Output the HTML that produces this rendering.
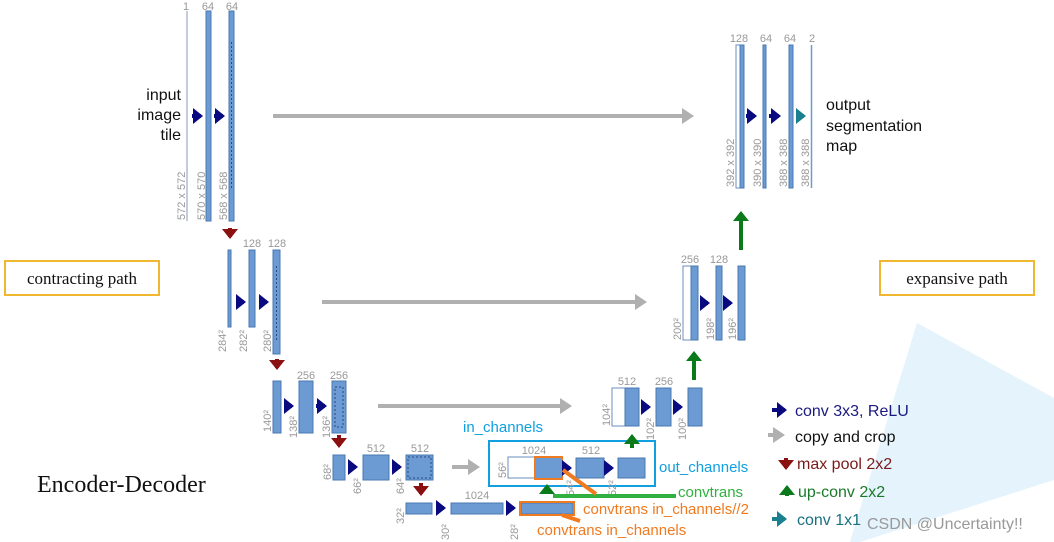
<!DOCTYPE html>
<html><head><meta charset="utf-8"><style>
html,body{margin:0;padding:0;background:#fff;}
svg{display:block;font-family:"Liberation Sans",sans-serif;}
.g{fill:#999;font-size:11px;}
.b{fill:#6b9bd2;stroke:#4a78b0;stroke-width:1;}
.w{fill:#fff;stroke:#6b8fc0;stroke-width:1;}
</style></head><body>
<svg width="1054" height="542" viewBox="0 0 1054 542" xmlns="http://www.w3.org/2000/svg">
<defs>
<marker id="nv" markerWidth="4" markerHeight="4" refX="2" refY="2" orient="auto" markerUnits="strokeWidth"><path d="M0,0 L2.5,2 L0,4 z" fill="#0a0a80"/></marker>
<marker id="gr" markerWidth="4" markerHeight="4" refX="2" refY="2" orient="auto" markerUnits="strokeWidth"><path d="M0,0 L3,2 L0,4 z" fill="#b0b0b0"/></marker>
<marker id="rd" markerWidth="4" markerHeight="4" refX="2" refY="2" orient="auto" markerUnits="strokeWidth"><path d="M0,0 L2.5,2 L0,4 z" fill="#8b1010"/></marker>
<marker id="gn" markerWidth="4" markerHeight="4" refX="2" refY="2" orient="auto" markerUnits="strokeWidth"><path d="M0,0 L2.5,2 L0,4 z" fill="#0a7a1a"/></marker>
<marker id="tl" markerWidth="4" markerHeight="4" refX="2" refY="2" orient="auto" markerUnits="strokeWidth"><path d="M0,0 L2.5,2 L0,4 z" fill="#1a8090"/></marker>
</defs>
<polygon points="917,323 1054,398 1054,480 860,542 850,542" fill="#e4f3fc"/>

<!-- Level 1 contracting -->
<line x1="187" y1="11" x2="187" y2="221" stroke="#8a9ab8" stroke-width="1"/>
<rect class="b" x="206" y="11" width="5" height="210"/>
<rect class="b" x="229" y="11" width="5" height="210"/>
<line x1="231.5" y1="42" x2="231.5" y2="190" stroke="#2a4a80" stroke-dasharray="2,2"/>
<text class="g" x="186" y="10" text-anchor="middle">1</text>
<text class="g" x="208" y="10" text-anchor="middle">64</text>
<text class="g" x="232" y="10" text-anchor="middle">64</text>
<text class="g" transform="translate(185,220) rotate(-90)">572 x 572</text>
<text class="g" transform="translate(205,220) rotate(-90)">570 x 570</text>
<text class="g" transform="translate(227,220) rotate(-90)">568 x 568</text>
<line x1="192" y1="116" x2="201" y2="116" stroke="#0a0a80" stroke-width="4" marker-end="url(#nv)"/>
<line x1="214" y1="116" x2="223" y2="116" stroke="#0a0a80" stroke-width="4" marker-end="url(#nv)"/>
<line x1="273" y1="116" x2="690" y2="116" stroke="#b0b0b0" stroke-width="4" marker-end="url(#gr)"/>
<text x="181" y="100" text-anchor="end" font-size="16" fill="#111">input</text>
<text x="181" y="120" text-anchor="end" font-size="16" fill="#111">image</text>
<text x="181" y="140" text-anchor="end" font-size="16" fill="#111">tile</text>
<line x1="230" y1="228" x2="230" y2="237" stroke="#8b1010" stroke-width="4" marker-end="url(#rd)"/>

<!-- Level 2 -->
<rect class="b" x="228" y="250" width="3" height="77"/>
<rect class="b" x="249" y="250" width="6" height="77"/>
<rect class="b" x="273" y="250" width="7" height="104"/>
<line x1="276.5" y1="266" x2="276.5" y2="340" stroke="#2a4a80" stroke-dasharray="2,2"/>
<text class="g" x="252" y="247" text-anchor="middle">128</text>
<text class="g" x="277" y="247" text-anchor="middle">128</text>
<text class="g" transform="translate(226,352) rotate(-90)">284²</text>
<text class="g" transform="translate(247,352) rotate(-90)">282²</text>
<text class="g" transform="translate(271,352) rotate(-90)">280²</text>
<line x1="236" y1="302" x2="244" y2="302" stroke="#0a0a80" stroke-width="4" marker-end="url(#nv)"/>
<line x1="259" y1="302" x2="267" y2="302" stroke="#0a0a80" stroke-width="4" marker-end="url(#nv)"/>
<line x1="322" y1="302" x2="643" y2="302" stroke="#b0b0b0" stroke-width="4" marker-end="url(#gr)"/>
<line x1="277" y1="359" x2="277" y2="368" stroke="#8b1010" stroke-width="4" marker-end="url(#rd)"/>

<!-- Level 3 -->
<rect class="b" x="273" y="381" width="8" height="52"/>
<rect class="b" x="299" y="381" width="14" height="52"/>
<rect class="b" x="332" y="381" width="14" height="52"/>
<rect x="335" y="387" width="8" height="40" fill="none" stroke="#2a4a80" stroke-dasharray="2,2"/>
<text class="g" x="306" y="379" text-anchor="middle" font-size="12">256</text>
<text class="g" x="339" y="379" text-anchor="middle" font-size="12">256</text>
<text class="g" transform="translate(271,432) rotate(-90)">140²</text>
<text class="g" transform="translate(297,438) rotate(-90)">138²</text>
<text class="g" transform="translate(330,438) rotate(-90)">136²</text>
<line x1="284" y1="406" x2="292" y2="406" stroke="#0a0a80" stroke-width="4" marker-end="url(#nv)"/>
<line x1="316" y1="406" x2="325" y2="406" stroke="#0a0a80" stroke-width="4" marker-end="url(#nv)"/>
<line x1="378" y1="406" x2="568" y2="406" stroke="#b0b0b0" stroke-width="4" marker-end="url(#gr)"/>
<line x1="339" y1="435" x2="339" y2="446" stroke="#8b1010" stroke-width="4" marker-end="url(#rd)"/>

<!-- Level 4 -->
<rect class="b" x="333" y="455" width="12" height="25"/>
<rect class="b" x="363" y="455" width="26" height="25"/>
<rect class="b" x="406" y="455" width="27" height="25"/>
<rect x="408" y="457" width="23" height="21" fill="none" stroke="#2a4a80" stroke-dasharray="2,2"/>
<text class="g" x="376" y="452" text-anchor="middle" font-size="12">512</text>
<text class="g" x="420" y="452" text-anchor="middle" font-size="12">512</text>
<text class="g" transform="translate(331,480) rotate(-90)">68²</text>
<text class="g" transform="translate(361,494) rotate(-90)">66²</text>
<text class="g" transform="translate(404,494) rotate(-90)">64²</text>
<line x1="348" y1="467" x2="356" y2="467" stroke="#0a0a80" stroke-width="4" marker-end="url(#nv)"/>
<line x1="392" y1="467" x2="400" y2="467" stroke="#0a0a80" stroke-width="4" marker-end="url(#nv)"/>
<line x1="452" y1="467" x2="476" y2="467" stroke="#b0b0b0" stroke-width="4" marker-end="url(#gr)"/>
<line x1="421" y1="483" x2="421" y2="494" stroke="#8b1010" stroke-width="4" marker-end="url(#rd)"/>

<!-- Level 5 -->
<rect class="b" x="406" y="503" width="26" height="11"/>
<rect class="b" x="451" y="503" width="52" height="11"/>
<rect class="b" x="521" y="503" width="52" height="11"/>
<rect x="520" y="502" width="54" height="13" fill="none" stroke="#f07a20" stroke-width="2"/>
<text class="g" x="477" y="499" text-anchor="middle" font-size="12">1024</text>
<text class="g" transform="translate(404,524) rotate(-90)">32²</text>
<text class="g" transform="translate(449,540) rotate(-90)">30²</text>
<text class="g" transform="translate(518,540) rotate(-90)">28²</text>
<line x1="436" y1="508" x2="444" y2="508" stroke="#0a0a80" stroke-width="4" marker-end="url(#nv)"/>
<line x1="506" y1="508" x2="514" y2="508" stroke="#0a0a80" stroke-width="4" marker-end="url(#nv)"/>

<!-- Expansive level 4 -->
<rect x="489" y="441" width="166" height="45" fill="none" stroke="#10a0e0" stroke-width="2"/>
<rect class="w" x="508" y="457" width="27" height="21"/>
<rect class="b" x="535" y="457" width="27" height="22"/>
<rect x="535" y="457" width="27" height="22" fill="none" stroke="#f07a20" stroke-width="2"/>
<rect class="b" x="576" y="458" width="28" height="20"/>
<rect class="b" x="618" y="458" width="27" height="20"/>
<text class="g" x="534" y="454" text-anchor="middle" font-size="12">1024</text>
<text class="g" x="591" y="454" text-anchor="middle" font-size="12">512</text>
<text class="g" transform="translate(506,478) rotate(-90)">56²</text>
<text class="g" transform="translate(574,496) rotate(-90)">54²</text>
<text class="g" transform="translate(616,496) rotate(-90)">52²</text>
<line x1="564" y1="468" x2="570" y2="468" stroke="#0a0a80" stroke-width="4" marker-end="url(#nv)"/>
<line x1="606" y1="468" x2="612" y2="468" stroke="#0a0a80" stroke-width="4" marker-end="url(#nv)"/>
<line x1="547" y1="492" x2="547" y2="486" stroke="#0a7a1a" stroke-width="4" marker-end="url(#gn)"/>
<line x1="553" y1="496" x2="676" y2="496" stroke="#30b040" stroke-width="4"/>
<line x1="563" y1="470" x2="596" y2="494" stroke="#f07a20" stroke-width="4"/>
<line x1="562" y1="515" x2="580" y2="521" stroke="#f07a20" stroke-width="4"/>
<text x="463" y="432" font-size="15" fill="#10a0e0">in_channels</text>
<text x="659" y="472" font-size="15" fill="#10a0e0">out_channels</text>
<text x="678" y="497" font-size="15" fill="#30b040">convtrans</text>
<text x="583" y="514" font-size="15" fill="#f07a20">convtrans in_channels//2</text>
<text x="537" y="535" font-size="15" fill="#f07a20">convtrans in_channels</text>

<!-- Expansive level 3 -->
<rect class="w" x="612" y="388" width="13" height="38"/>
<rect class="b" x="625" y="388" width="14" height="38"/>
<rect class="b" x="656" y="388" width="15" height="38"/>
<rect class="b" x="688" y="388" width="14" height="38"/>
<text class="g" x="627" y="385" text-anchor="middle" font-size="12">512</text>
<text class="g" x="664" y="385" text-anchor="middle" font-size="12">256</text>
<text class="g" transform="translate(610,426) rotate(-90)">104²</text>
<text class="g" transform="translate(654,440) rotate(-90)">102²</text>
<text class="g" transform="translate(686,440) rotate(-90)">100²</text>
<line x1="641" y1="407" x2="649" y2="407" stroke="#0a0a80" stroke-width="4" marker-end="url(#nv)"/>
<line x1="673" y1="407" x2="681" y2="407" stroke="#0a0a80" stroke-width="4" marker-end="url(#nv)"/>
<line x1="632" y1="448" x2="632" y2="436" stroke="#0a7a1a" stroke-width="4" marker-end="url(#gn)"/>

<!-- Expansive level 2 -->
<rect class="w" x="683" y="266" width="8" height="74"/>
<rect class="b" x="691" y="266" width="7" height="74"/>
<rect class="b" x="716" y="266" width="6" height="74"/>
<rect class="b" x="738" y="266" width="7" height="74"/>
<text class="g" x="690" y="263" text-anchor="middle" font-size="12">256</text>
<text class="g" x="719" y="263" text-anchor="middle" font-size="12">128</text>
<text class="g" transform="translate(681,340) rotate(-90)">200²</text>
<text class="g" transform="translate(714,340) rotate(-90)">198²</text>
<text class="g" transform="translate(736,340) rotate(-90)">196²</text>
<line x1="701" y1="303" x2="708" y2="303" stroke="#0a0a80" stroke-width="4" marker-end="url(#nv)"/>
<line x1="724" y1="303" x2="731" y2="303" stroke="#0a0a80" stroke-width="4" marker-end="url(#nv)"/>
<line x1="694" y1="380" x2="694" y2="353" stroke="#0a7a1a" stroke-width="4" marker-end="url(#gn)"/>

<!-- Expansive level 1 -->
<rect class="w" x="736" y="45" width="4" height="143"/>
<rect class="b" x="740" y="45" width="4" height="143"/>
<rect class="b" x="763" y="45" width="3" height="143"/>
<rect class="b" x="789" y="45" width="4" height="143"/>
<line x1="811.5" y1="45" x2="811.5" y2="188" stroke="#6b9bd2" stroke-width="1.5"/>
<text class="g" x="739" y="42" text-anchor="middle" font-size="12">128</text>
<text class="g" x="766" y="42" text-anchor="middle" font-size="12">64</text>
<text class="g" x="790" y="42" text-anchor="middle" font-size="12">64</text>
<text class="g" x="812" y="42" text-anchor="middle" font-size="12">2</text>
<text class="g" transform="translate(734,187) rotate(-90)">392 x 392</text>
<text class="g" transform="translate(761,187) rotate(-90)">390 x 390</text>
<text class="g" transform="translate(787,187) rotate(-90)">388 x 388</text>
<text class="g" transform="translate(809,187) rotate(-90)">388 x 388</text>
<line x1="746" y1="116" x2="755" y2="116" stroke="#0a0a80" stroke-width="4" marker-end="url(#nv)"/>
<line x1="769" y1="116" x2="779" y2="116" stroke="#0a0a80" stroke-width="4" marker-end="url(#nv)"/>
<line x1="796" y1="116" x2="804" y2="116" stroke="#1a8090" stroke-width="4" marker-end="url(#tl)"/>
<line x1="741" y1="250" x2="741" y2="213" stroke="#0a7a1a" stroke-width="4" marker-end="url(#gn)"/>
<text x="826" y="110" font-size="16" fill="#111">output</text>
<text x="826" y="131" font-size="16" fill="#111">segmentation</text>
<text x="826" y="151" font-size="16" fill="#111">map</text>

<!-- Boxes -->
<rect x="5" y="261" width="154" height="34" fill="#fff" stroke="#f0b830" stroke-width="2"/>
<text x="82" y="284" text-anchor="middle" font-family="Liberation Serif,serif" font-size="17" fill="#111">contracting path</text>
<rect x="880" y="261" width="154" height="34" fill="#fff" stroke="#f0b830" stroke-width="2"/>
<text x="957" y="284" text-anchor="middle" font-family="Liberation Serif,serif" font-size="17" fill="#111">expansive path</text>
<text x="37" y="492" font-family="Liberation Serif,serif" font-size="24" fill="#111">Encoder-Decoder</text>

<!-- Legend -->
<line x1="772" y1="410" x2="785" y2="410" stroke="#0a0a80" stroke-width="4" marker-end="url(#nv)"/>
<text x="795" y="416" font-size="16" fill="#1a1a80">conv 3x3, ReLU</text>
<line x1="768" y1="435" x2="781" y2="435" stroke="#b0b0b0" stroke-width="4" marker-end="url(#gr)"/>
<text x="795" y="442" font-size="16" fill="#111">copy and crop</text>
<line x1="786" y1="458" x2="786" y2="468" stroke="#8b1010" stroke-width="4" marker-end="url(#rd)"/>
<text x="797" y="469" font-size="16" fill="#7a1a1a">max pool 2x2</text>
<line x1="787" y1="496" x2="787" y2="487" stroke="#0a7a1a" stroke-width="4" marker-end="url(#gn)"/>
<text x="798" y="497" font-size="16" fill="#1a7a2a">up-conv 2x2</text>
<line x1="772" y1="519" x2="785" y2="519" stroke="#1a8090" stroke-width="4" marker-end="url(#tl)"/>
<text x="797" y="525" font-size="16" fill="#1a7080">conv 1x1</text>
<text x="867" y="529" font-size="16" fill="#999">CSDN @Uncertainty!!</text>
</svg>
</body></html>
